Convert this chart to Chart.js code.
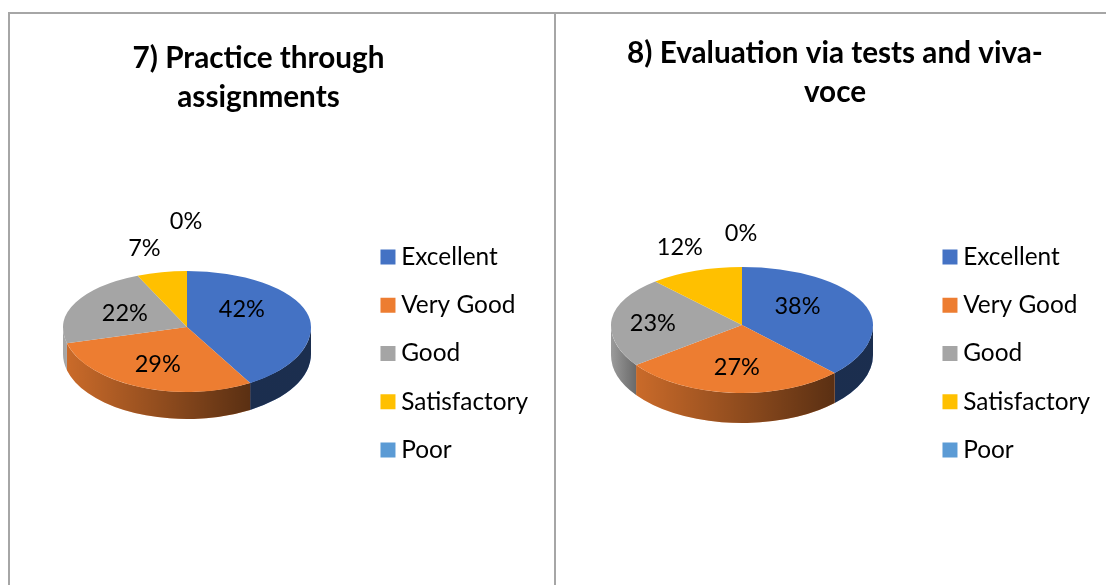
<!DOCTYPE html>
<html><head><meta charset="utf-8">
<script src="https://cdn.jsdelivr.net/npm/chart.js@4/dist/chart.umd.js"></script>
<style>
html,body{margin:0;padding:0;background:#fff;width:1106px;height:585px;overflow:hidden;position:relative}
canvas{position:absolute;top:0}
.ln{position:absolute;background:#a6a6a6;z-index:5}
</style></head><body>
<canvas id="a" style="left:-21px;width:575px;height:707px" width="575" height="707"></canvas>
<canvas id="b" style="left:570px;width:543px;height:707px" width="543" height="707"></canvas>
<div class="ln" style="left:8px;top:12px;width:1.5px;height:573px"></div>
<div class="ln" style="left:8px;top:12px;width:1098px;height:1.5px"></div>
<div class="ln" style="left:554px;top:12px;width:1.5px;height:573px"></div>
<script>
const categories = ['Excellent','Very Good','Good','Satisfactory','Poor'];
const colors = ['#4472C4','#ED7D31','#A5A5A5','#FFC000','#5B9BD5'];
// shares; the printed labels are these, rounded
const values7 = [41.5,29.49,22.49,6.52,0];
const values8 = [37.5,27.49,23.49,11.52,0];
const title7 = ['7) Practice through','assignments'];
const title8 = ['8) Evaluation via tests and viva-','voce'];
const FONT = 'Lato, Carlito, sans-serif';

const view7 = {cx:208, cy:327, rx:124, up:56, down:65, depth:27,
  wall:[[.6,.6],[.15,.62],[0,0],[.3,.3],[0,0]],
  nudge:[[-5,-10],[-5.5,7],[-6.5,-1],[-30,-51],[-1,-78]]};
const view8 = {cx:172, cy:325, rx:131, up:58, down:68, depth:30,
  wall:[[.6,.6],[.15,.62],[.06,.36],[.3,.3],[0,0]],
  nudge:[[-5,-7],[0,9],[-24,2],[-39,-50],[-1,-63]]};

const tilted = {
  id:'tilted',
  beforeDatasetsDraw(chart, args, o){
    const ctx = chart.ctx, arcs = chart.getDatasetMeta(0).data, v = o.view;
    const {cx,cy,rx,up,down,depth} = v;
    arcs.forEach((arc,i)=>{
      const a0 = Math.max(arc.startAngle,0), a1 = Math.min(arc.endAngle,Math.PI);
      if(a1<=a0) return;
      const x0 = cx+rx*Math.cos(a1), x1 = cx+rx*Math.cos(a0);
      const path = ()=>{ctx.beginPath();
        ctx.ellipse(cx,cy,rx,down,0,a0,a1);
        ctx.ellipse(cx,cy+depth,rx,down,0,a1,a0,true);
        ctx.closePath();};
      ctx.save();
      path(); ctx.fillStyle = colors[i]; ctx.fill();
      const g = ctx.createLinearGradient(x0,0,x1,0);
      g.addColorStop(0,`rgba(0,0,0,${v.wall[i][0]})`);
      g.addColorStop(1,`rgba(0,0,0,${v.wall[i][1]})`);
      path(); ctx.fillStyle = g; ctx.fill();
      ctx.restore();
    });
    [[up,cy-200,200.5],[down,cy,200]].forEach(([ry,top,h])=>{
      ctx.save();
      ctx.beginPath(); ctx.rect(cx-rx-5,top,2*rx+10,h); ctx.clip();
      ctx.translate(cx,cy); ctx.scale(1,ry/rx);
      arcs.forEach(arc=>{
        ctx.save(); ctx.translate(-arc.x,-arc.y); arc.draw(ctx); ctx.restore();
      });
      ctx.restore();
    });
    return false;
  },
  afterDraw(chart, args, o){
    const ctx = chart.ctx, arcs = chart.getDatasetMeta(0).data, v = o.view;
    const vals = chart.data.datasets[0].data;
    ctx.save();
    ctx.font = `${o.size}px ${FONT}`; ctx.fillStyle='#000';
    ctx.textAlign='center'; ctx.textBaseline='middle';
    arcs.forEach((arc,i)=>{
      const m = (arc.startAngle+arc.endAngle)/2, s = Math.sin(m);
      const x = v.cx + .5*v.rx*Math.cos(m) + v.nudge[i][0];
      const y = v.cy + .5*(s>0?v.down:v.up)*s + v.nudge[i][1];
      ctx.fillText(Math.round(vals[i])+'%',x,y);
    });
    ctx.restore();
  }
};

function build(id,values,title,view,titleTop,titleBottom,padRight){
  return new Chart(document.getElementById(id),{
    type:'pie',
    plugins:[tilted],
    data:{labels:categories,datasets:[{data:values,backgroundColor:colors,borderWidth:0}]},
    options:{
      responsive:false,animation:false,radius:view.rx,
      layout:{padding:{left:0,right:padRight,top:0,bottom:0}},
      plugins:{
        tooltip:{enabled:false},
        tilted:{view,size:23.5},
        title:{display:true,text:title,color:'#000',
          font:{family:FONT,size:29.7,weight:'bold',lineHeight:39/29.7},
          padding:{top:titleTop,bottom:titleBottom}},
        legend:{position:'right',
          labels:{color:'#000',font:{family:FONT,size:24.4},
            usePointStyle:true,pointStyle:'rect',boxWidth:2,boxHeight:15,padding:23.85}}
      }
    }
  });
}
build('a',values7,title7,view7,39,10,16);
build('b',values8,title8,view8,34,15,13);
</script>
</body></html>
